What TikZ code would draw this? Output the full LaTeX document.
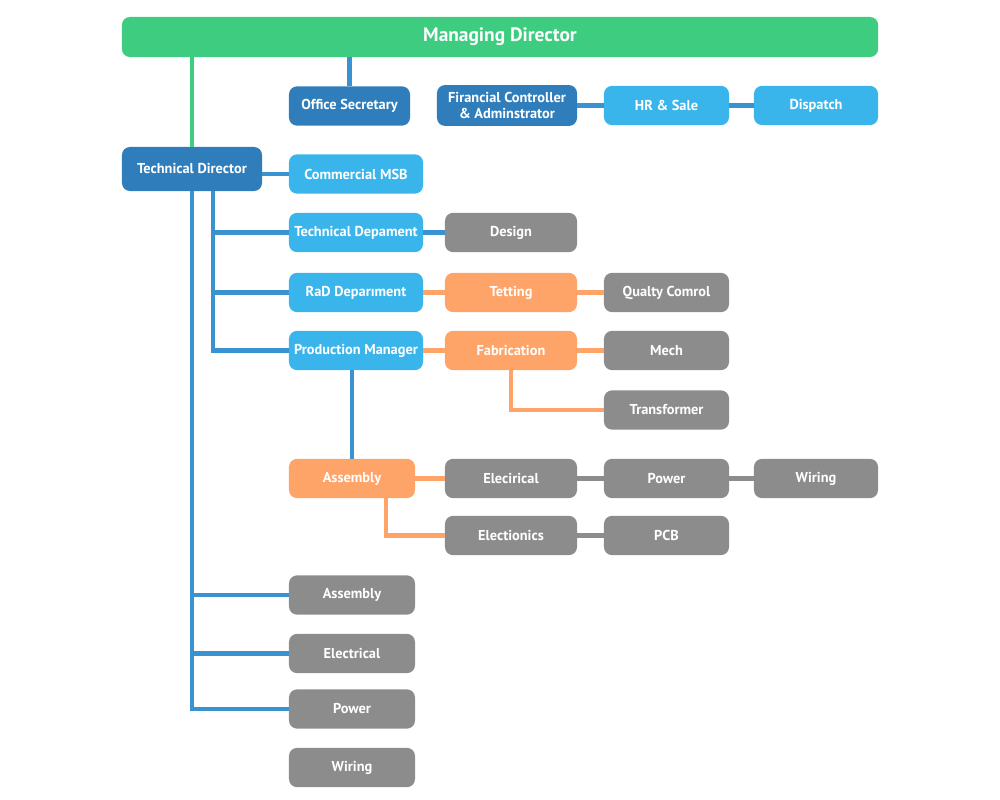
\documentclass[tikz,border=0pt]{standalone}
\usepackage{fontspec}
\setmainfont{PT Sans}
\usepackage{tikz}
\usetikzlibrary{positioning}

\definecolor{mdgreen}{HTML}{3DCC80}
\definecolor{darkblue}{HTML}{2F7EBB}
\definecolor{lightblue}{HTML}{3AB5EB}
\definecolor{linkblue}{HTML}{3A92D0}
\definecolor{orng}{HTML}{FFA468}
\definecolor{grey}{HTML}{8C8C8C}

\begin{document}
\begin{tikzpicture}[x=0.025cm,y=-0.025cm,
        box/.style={rounded corners=0.2cm,minimum height=0.98cm,text=white,
            font=\fontsize{10.2}{11}\selectfont\bfseries,align=center,inner sep=1pt},
        md node/.style={box,fill=mdgreen,minimum width=18.9cm,minimum height=1cm,
            font=\fontsize{13.8}{15}\selectfont\bfseries},
        dark node/.style={box,fill=darkblue},
        light node/.style={box,fill=lightblue},
        orange node/.style={box,fill=orng},
        grey node/.style={box,fill=grey},
        blue link/.style={draw=linkblue,line width=3pt},
        green link/.style={draw=mdgreen,line width=3pt},
        orange link/.style={draw=orng,line width=3pt},
        grey link/.style={draw=grey,line width=3pt}]

    \useasboundingbox (0,0) rectangle (1000,800);

    % top level
    \node[md node] (md) at (500,37) {Managing Director};
    \node[dark node,minimum width=3.025cm] (sec) at (349.5,106) {Office Secretary};
    \node[dark node,minimum width=3.5cm,minimum height=1.02cm] (fin) at (507,105.5) {Firancial Controller\\ \& Adminstrator};
    \node[light node,minimum width=3.125cm] (hr) at (666.5,105.5) {HR \& Sale};
    \node[light node,minimum width=3.1cm] (disp) at (816,105.5) {Dispatch};

    % technical side
    \node[dark node,minimum width=3.5cm,minimum height=1.1cm] (td) at (192,169) {Technical Director};
    \node[light node,minimum width=3.35cm] (msb) at (356,174) {Commercial MSB};
    \node[light node,minimum width=3.35cm] (tdep) at (356,232.5) {Technical Depament};
    \node[grey node,minimum width=3.3cm] (design) at (511,232.5) {Design};
    \node[light node,minimum width=3.35cm] (rad) at (356,292.5) {RaD Deparıment};
    \node[orange node,minimum width=3.3cm] (test) at (511,292.5) {Tetting};
    \node[grey node,minimum width=3.125cm] (qc) at (666.5,292.5) {Qualty Comrol};
    \node[light node,minimum width=3.35cm] (prod) at (356,350.5) {Production Manager};
    \node[orange node,minimum width=3.3cm] (fab) at (511,350.5) {Fabrication};
    \node[grey node,minimum width=3.125cm] (mech) at (666.5,350.5) {Mech};
    \node[grey node,minimum width=3.125cm] (trans) at (666.5,410) {Transformer};

    % assembly
    \node[orange node,minimum width=3.15cm] (asm) at (352,478.5) {Assembly};
    \node[grey node,minimum width=3.3cm] (elec) at (511,478.5) {Elecirical};
    \node[grey node,minimum width=3.125cm] (pow) at (666.5,478.5) {Power};
    \node[grey node,minimum width=3.1cm] (wir) at (816,478.5) {Wiring};
    \node[grey node,minimum width=3.3cm] (etn) at (511,535.5) {Electionics};
    \node[grey node,minimum width=3.125cm] (pcb) at (666.5,535.5) {PCB};

    % lower column
    \node[grey node,minimum width=3.15cm] (asmb) at (352,595) {Assembly};
    \node[grey node,minimum width=3.15cm] (elecb) at (352,653.5) {Electrical};
    \node[grey node,minimum width=3.15cm] (powb) at (352,709) {Power};
    \node[grey node,minimum width=3.15cm] (wirb) at (352,767.5) {Wiring};

    \coordinate (bus) at (213,191);
    \coordinate (asmdrop) at (386,498);

    % links
    \draw[green link] (td.north |- md.south) -- (td.north);
    \draw[blue link] (sec.north |- md.south) -- (sec.north);
    \draw[blue link] (fin.east) -- (hr.west);
    \draw[blue link] (hr.east) -- (disp.west);
    \draw[blue link] (td.east |- msb.west) -- (msb.west);
    \draw[blue link] (bus) |- (tdep.west);
    \draw[blue link] (bus) |- (rad.west);
    \draw[blue link] (bus) |- (prod.west);
    \draw[blue link] (tdep.east) -- (design.west);
    \draw[orange link] (rad.east) -- (test.west);
    \draw[orange link] (test.east) -- (qc.west);
    \draw[orange link] (prod.east) -- (fab.west);
    \draw[orange link] (fab.east) -- (mech.west);
    \draw[orange link] (fab.south) |- (trans.west);
    \draw[blue link] (asm.north |- prod.south) -- (asm.north);
    \draw[orange link] (asm.east) -- (elec.west);
    \draw[grey link] (elec.east) -- (pow.west);
    \draw[grey link] (pow.east) -- (wir.west);
    \draw[orange link] (asmdrop) |- (etn.west);
    \draw[grey link] (etn.east) -- (pcb.west);
    \draw[blue link] (td.south) |- (asmb.west);
    \draw[blue link] (td.south) |- (elecb.west);
    \draw[blue link] (td.south) |- (powb.west);
\end{tikzpicture}
\end{document}
